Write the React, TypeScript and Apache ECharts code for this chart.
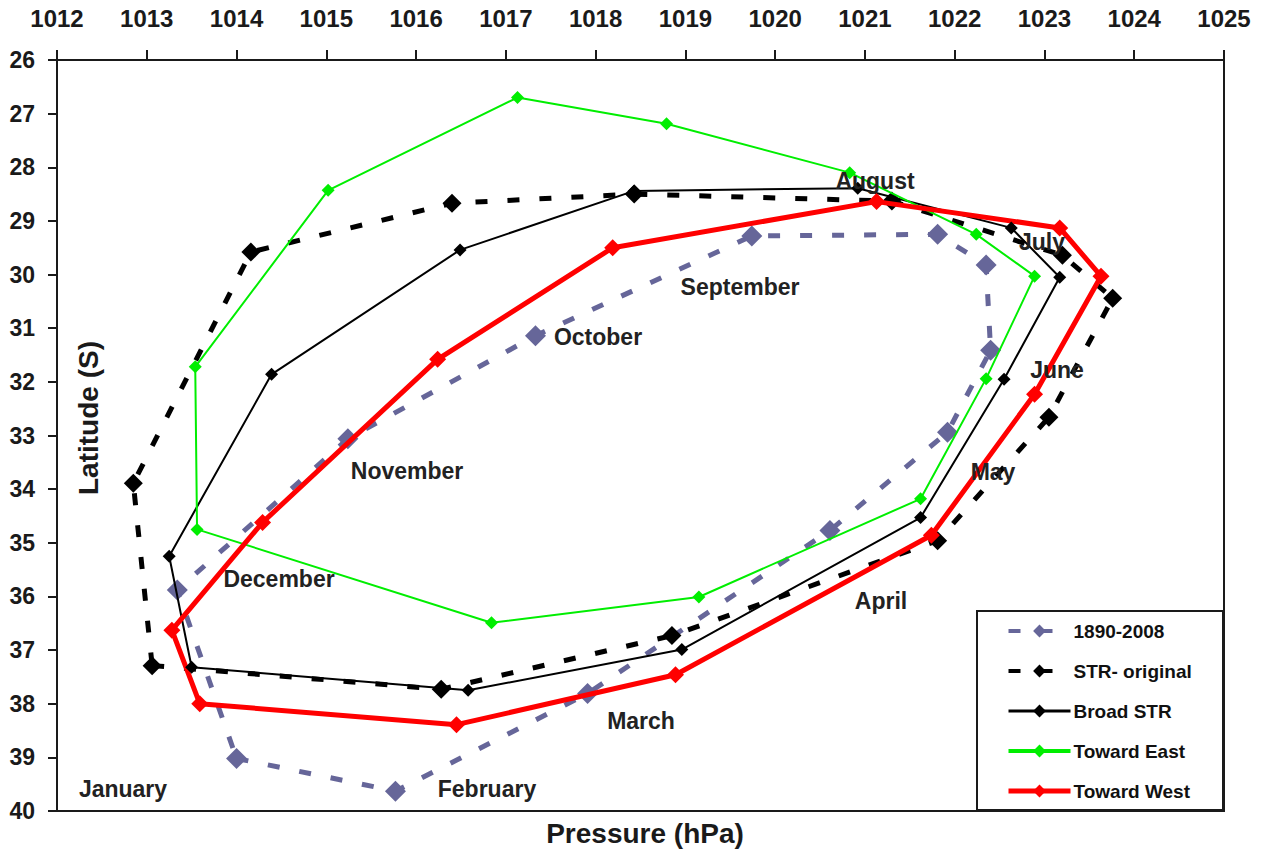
import React, { useEffect, useRef } from "react";
import * as echarts from "echarts";

// Monthly position of the subtropical ridge: pressure (hPa) vs latitude (°S)
const months = [
  "January", "February", "March", "April", "May", "June",
  "July", "August", "September", "October", "November", "December",
];

const climPressure = [1014.0, 1015.77, 1017.91, 1020.61, 1021.92, 1022.4, 1022.35, 1021.81, 1019.74, 1017.33, 1015.24, 1013.34];
const climLatitude = [39.02, 39.63, 37.81, 34.77, 32.94, 31.41, 29.82, 29.25, 29.28, 31.14, 33.06, 35.88];

const origPressure = [1013.06, 1016.28, 1018.85, 1021.81, 1023.05, 1023.76, 1023.2, 1021.3, 1018.43, 1016.4, 1014.16, 1012.85];
const origLatitude = [37.29, 37.73, 36.73, 34.96, 32.66, 30.44, 29.64, 28.63, 28.5, 28.67, 29.58, 33.89];

const broadPressure = [1013.5, 1016.58, 1018.96, 1021.62, 1022.55, 1023.17, 1022.63, 1020.92, 1018.43, 1016.49, 1014.39, 1013.25];
const broadLatitude = [37.32, 37.75, 36.99, 34.53, 31.95, 30.05, 29.13, 28.39, 28.44, 29.54, 31.86, 35.25];

const eastPressure = [1013.56, 1016.84, 1019.15, 1021.62, 1022.35, 1022.89, 1022.24, 1020.83, 1018.79, 1017.13, 1015.02, 1013.54];
const eastLatitude = [34.75, 36.49, 36.01, 34.18, 31.94, 30.03, 29.25, 28.1, 27.19, 26.7, 28.43, 31.72];

const westPressure = [1013.59, 1016.45, 1018.89, 1021.74, 1022.89, 1023.63, 1023.17, 1021.13, 1018.19, 1016.24, 1014.29, 1013.28];
const westLatitude = [38.0, 38.39, 37.46, 34.86, 32.23, 30.03, 29.13, 28.64, 29.5, 31.58, 34.62, 36.63];

const seriesNames = ["1890-2008", "STR- original", "Broad STR", "Toward East", "Toward West"];
const legendLineWidths = [4, 4, 3, 4, 5];

const pressureRange = { min: 1012, max: 1025, step: 1 };
const latitudeRange = { min: 26, max: 40, step: 1 };

// Month annotations placed in the plot (pixel anchors)
const monthLabelPos: [number, number][] = [
  [123, 789], [487, 789], [641, 721], [881, 601], [993, 472], [1057, 370],
  [1042, 242], [875, 181], [740, 287], [598, 337], [407, 471], [279, 579],
];

const FONT = "'Liberation Sans', Arial, sans-serif";

// Closed monthly loop: December links back to January
function loop(p: number[], lat: number[]) {
  const pts: any[] = p.map((v, i) => [v, lat[i]]);
  pts.push({ value: [p[0], lat[0]], symbolSize: 0 });
  return pts;
}

export default function App() {
  const ref = useRef<HTMLDivElement>(null);

  useEffect(() => {
    if (!ref.current) return;
    const chart = echarts.init(ref.current, undefined, { renderer: "svg" });

    const axisText = { color: "#1a1a1a", fontFamily: FONT, fontWeight: "bold" as const };

    chart.setOption({
      animation: false,
      backgroundColor: "#ffffff",
      grid: {
        left: 57,
        right: 46,
        top: 60,
        bottom: 45,
        show: true,
        borderColor: "#1a1a1a",
        borderWidth: 2,
        backgroundColor: "#ffffff",
      },
      xAxis: {
        type: "value",
        position: "top",
        min: pressureRange.min,
        max: pressureRange.max,
        interval: pressureRange.step,
        splitLine: { show: false },
        axisLine: { show: true, lineStyle: { color: "#1a1a1a", width: 2 } },
        axisTick: { show: true, inside: false, length: 10, lineStyle: { color: "#1a1a1a", width: 2 } },
        axisLabel: { ...axisText, fontSize: 24, margin: 30, formatter: (v: number) => String(v) },
      },
      yAxis: {
        type: "value",
        inverse: true,
        min: latitudeRange.min,
        max: latitudeRange.max,
        interval: latitudeRange.step,
        splitLine: { show: false },
        axisLine: { show: true, lineStyle: { color: "#1a1a1a", width: 2 } },
        axisTick: { show: true, inside: false, length: 9, lineStyle: { color: "#1a1a1a", width: 2 } },
        axisLabel: { ...axisText, fontSize: 23, margin: 22, formatter: (v: number) => String(v) },
      },
      legend: {
        orient: "vertical",
        left: 1006,
        top: 621,
        padding: 0,
        itemWidth: 62,
        itemHeight: 16,
        itemGap: 20,
        data: seriesNames.map((n, i) => ({ name: n, lineStyle: { width: legendLineWidths[i] } })),
        textStyle: { color: "#111", fontFamily: FONT, fontWeight: "bold", fontSize: 19, lineHeight: 20, padding: [0, 0, 0, -2] },
      },
      graphic: [
        {
          type: "rect",
          shape: { x: 977, y: 611, width: 246, height: 199 },
          style: { fill: "#ffffff", stroke: "#1a1a1a", lineWidth: 2 },
          z: 3,
        },
        {
          type: "text",
          x: 645,
          y: 833,
          style: {
            text: "Pressure (hPa)",
            font: `bold 28px ${FONT}`,
            fill: "#1a1a1a",
            textAlign: "center",
            textVerticalAlign: "middle",
          },
        },
        {
          type: "text",
          x: 88,
          y: 418,
          rotation: Math.PI / 2,
          style: {
            text: "Latitude (S)",
            font: `bold 28px ${FONT}`,
            fill: "#1a1a1a",
            textAlign: "center",
            textVerticalAlign: "middle",
          },
          z: 5,
        },
        ...months.map((m, i) => ({
          type: "text",
          x: monthLabelPos[i][0],
          y: monthLabelPos[i][1],
          z: 5,
          style: {
            text: m,
            font: `bold 23px ${FONT}`,
            fill: "#222222",
            textAlign: "center",
            textVerticalAlign: "middle",
          },
        })),
      ],
      series: [
        {
          name: seriesNames[0],
          type: "line",
          data: loop(climPressure, climLatitude),
          symbol: "diamond",
          symbolSize: 21,
          color: "#666699",
          lineStyle: { color: "#666699", width: 5, type: [12, 20] },
          itemStyle: { color: "#666699" },
          z: 2,
        },
        {
          name: seriesNames[1],
          type: "line",
          data: loop(origPressure, origLatitude),
          symbol: "diamond",
          symbolSize: 19,
          color: "#000000",
          lineStyle: { color: "#000000", width: 5, type: [12, 20] },
          itemStyle: { color: "#000000" },
          z: 3,
        },
        {
          name: seriesNames[2],
          type: "line",
          data: loop(broadPressure, broadLatitude),
          symbol: "diamond",
          symbolSize: 13,
          color: "#000000",
          lineStyle: { color: "#000000", width: 2 },
          itemStyle: { color: "#000000" },
          z: 4,
        },
        {
          name: seriesNames[3],
          type: "line",
          data: loop(eastPressure, eastLatitude),
          symbol: "diamond",
          symbolSize: 13,
          color: "#00ee00",
          lineStyle: { color: "#00ee00", width: 2 },
          itemStyle: { color: "#00ee00" },
          z: 4,
        },
        {
          name: seriesNames[4],
          type: "line",
          data: loop(westPressure, westLatitude),
          symbol: "diamond",
          symbolSize: 17,
          color: "#ff0000",
          lineStyle: { color: "#ff0000", width: 5 },
          itemStyle: { color: "#ff0000" },
          z: 4,
        },
      ],
    });

    return () => chart.dispose();
  }, []);

  return (
    <div
      ref={ref}
      style={{ position: "absolute", left: 0, top: 0, width: 1270, height: 856 }}
    />
  );
}
